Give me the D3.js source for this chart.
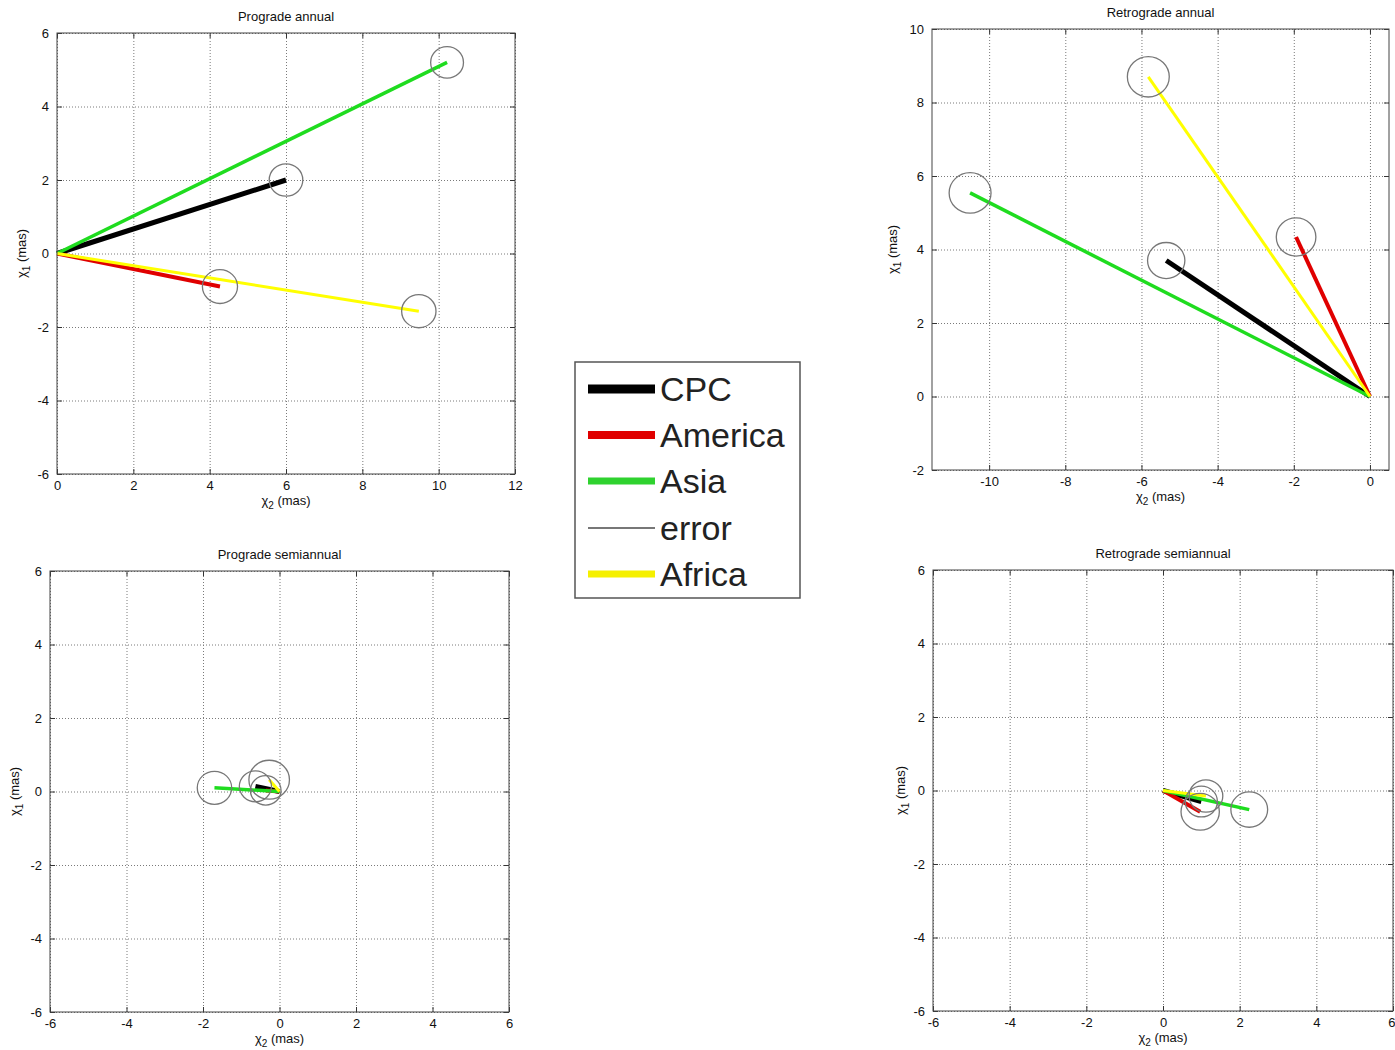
<!DOCTYPE html>
<html>
<head>
<meta charset="utf-8">
<script src="https://cdn.jsdelivr.net/npm/d3@7"></script>
<style>
  body { margin: 0; background: #fff; }
  svg { display: block; font-family: "Liberation Sans", Arial, sans-serif; }
</style>
</head>
<body>
<svg id="chart" width="1395" height="1050"></svg>
<script>
// ---------- DATA ----------
const seriesNames = ["CPC", "America", "Asia", "Africa"];
const seriesColors = ["#000000", "#e00000", "#1fdc1f", "#ffff00"];
const legendNames = ["CPC", "America", "Asia", "error", "Africa"];

const panelTitles = ["Prograde annual", "Retrograde annual", "Prograde semiannual", "Retrograde semiannual"];

// Prograde annual (chi2, chi1, error radius) for CPC, America, Asia, Africa
const proAnnualChi2 = [6.0, 4.27, 10.22, 9.48];
const proAnnualChi1 = [2.0, -0.9, 5.2, -1.57];
const proAnnualErr  = [0.44, 0.46, 0.43, 0.45];

// Retrograde annual
const retAnnualChi2 = [-5.35, -1.94, -10.5, -5.82];
const retAnnualChi1 = [3.7, 4.34, 5.54, 8.7];
const retAnnualErr  = [0.49, 0.52, 0.55, 0.55];

// Prograde semiannual
const proSemiChi2 = [-0.63, -0.36, -1.70, -0.27];
const proSemiChi1 = [0.14, 0.03, 0.10, 0.32];
const proSemiErr  = [0.42, 0.40, 0.45, 0.53];

// Retrograde semiannual
const retSemiChi2 = [1.0, 0.97, 2.25, 1.12];
const retSemiChi1 = [-0.30, -0.58, -0.52, -0.15];
const retSemiErr  = [0.42, 0.50, 0.48, 0.44];

const proAnnualXTicks = [0, 2, 4, 6, 8, 10, 12];
const retAnnualXTicks = [-10, -8, -6, -4, -2, 0];
const semiXTicks = [-6, -4, -2, 0, 2, 4, 6];
const sixYTicks = [-6, -4, -2, 0, 2, 4, 6];
const retAnnualYTicks = [-2, 0, 2, 4, 6, 8, 10];

// ---------- LAYOUT ----------
const panels = [
  { title: panelTitles[0], x: proAnnualChi2, y: proAnnualChi1, e: proAnnualErr,
    xDom: [0, 12], yDom: [-6, 6], xTicks: proAnnualXTicks, yTicks: sixYTicks,
    box: { l: 57, r: 515, t: 33, b: 474 }, titleY: 21, ylabX: 26 },
  { title: panelTitles[1], x: retAnnualChi2, y: retAnnualChi1, e: retAnnualErr,
    xDom: [-11.5, 0.5], yDom: [-2, 10], xTicks: retAnnualXTicks, yTicks: retAnnualYTicks,
    box: { l: 932, r: 1389, t: 29, b: 470 }, titleY: 17, ylabX: 897 },
  { title: panelTitles[2], x: proSemiChi2, y: proSemiChi1, e: proSemiErr,
    xDom: [-6, 6], yDom: [-6, 6], xTicks: semiXTicks, yTicks: sixYTicks,
    box: { l: 50, r: 509, t: 571, b: 1012 }, titleY: 559, ylabX: 19 },
  { title: panelTitles[3], x: retSemiChi2, y: retSemiChi1, e: retSemiErr,
    xDom: [-6, 6], yDom: [-6, 6], xTicks: semiXTicks, yTicks: sixYTicks,
    box: { l: 933, r: 1393, t: 570, b: 1011 }, titleY: 558, ylabX: 905 }
];

const svg = d3.select("#chart");
const fmt = d => String(d);

panels.forEach(p => {
  const B = p.box;
  const xs = d3.scaleLinear().domain(p.xDom).range([B.l, B.r]);
  const ys = d3.scaleLinear().domain(p.yDom).range([B.b, B.t]);
  const g = svg.append("g");

  g.append("rect").attr("x", B.l).attr("y", B.t).attr("width", B.r - B.l).attr("height", B.b - B.t)
    .attr("fill", "#fff");

  // grid
  const gx = g.append("g").attr("transform", `translate(0,${B.b})`)
    .call(d3.axisBottom(xs).tickValues(p.xTicks).tickSize(-(B.b - B.t)).tickFormat(""));
  const gy = g.append("g").attr("transform", `translate(${B.l},0)`)
    .call(d3.axisLeft(ys).tickValues(p.yTicks).tickSize(-(B.r - B.l)).tickFormat(""));
  [gx, gy].forEach(a => {
    a.select(".domain").remove();
    a.selectAll("line").attr("stroke", "#7a7a7a").attr("stroke-width", 1).attr("stroke-dasharray", "1,2");
  });

  // inner ticks on all four sides
  const tl = 5;
  const axB = g.append("g").attr("transform", `translate(0,${B.b})`)
    .call(d3.axisBottom(xs).tickValues(p.xTicks).tickSizeInner(-tl).tickSizeOuter(0).tickPadding(8).tickFormat(fmt));
  const axT = g.append("g").attr("transform", `translate(0,${B.t})`)
    .call(d3.axisTop(xs).tickValues(p.xTicks).tickSizeInner(-tl).tickSizeOuter(0).tickFormat(""));
  const axL = g.append("g").attr("transform", `translate(${B.l},0)`)
    .call(d3.axisLeft(ys).tickValues(p.yTicks).tickSizeInner(-tl).tickSizeOuter(0).tickPadding(8).tickFormat(fmt));
  const axR = g.append("g").attr("transform", `translate(${B.r},0)`)
    .call(d3.axisRight(ys).tickValues(p.yTicks).tickSizeInner(-tl).tickSizeOuter(0).tickFormat(""));
  [axB, axT, axL, axR].forEach(a => {
    a.select(".domain").remove();
    a.selectAll("line").attr("stroke", "#333");
    a.selectAll("text").attr("fill", "#111").style("font-size", "13px")
      .style("font-family", "'Liberation Sans', Arial, sans-serif");
  });
  axB.selectAll("text").attr("dy", "0.6em");
  // keep the last x label inside the page
  axB.selectAll(".tick text").filter(d => xs(d) > 1385).attr("text-anchor", "end").attr("x", 2);

  // series lines
  const widths = [5, 4, 3.5, 3];
  seriesNames.forEach((s, i) => {
    g.append("line")
      .attr("x1", xs(0)).attr("y1", ys(0))
      .attr("x2", xs(p.x[i])).attr("y2", ys(p.y[i]))
      .attr("stroke", seriesColors[i]).attr("stroke-width", widths[i])
      .attr("stroke-linecap", "butt");
  });

  // error ellipses
  seriesNames.forEach((s, i) => {
    g.append("ellipse")
      .attr("cx", xs(p.x[i])).attr("cy", ys(p.y[i]))
      .attr("rx", Math.abs(xs(p.e[i]) - xs(0)))
      .attr("ry", Math.abs(ys(p.e[i]) - ys(0)))
      .attr("fill", "none").attr("stroke", "#777").attr("stroke-width", 1.3);
  });

  // frame
  g.append("rect").attr("x", B.l).attr("y", B.t).attr("width", B.r - B.l).attr("height", B.b - B.t)
    .attr("fill", "none").attr("stroke", "#444").attr("stroke-width", 1);

  // title
  const cx = (B.l + B.r) / 2;
  g.append("text").attr("x", cx).attr("y", p.titleY).attr("text-anchor", "middle")
    .style("font-size", "13px").attr("fill", "#111").text(p.title);

  // x label
  const xl = g.append("text").attr("x", cx).attr("y", B.b + 31).attr("text-anchor", "middle")
    .style("font-size", "13px").attr("fill", "#111");
  xl.append("tspan").text("χ");
  xl.append("tspan").attr("dy", 4).style("font-size", "10px").text("2");
  xl.append("tspan").attr("dy", -4).text(" (mas)");

  // y label
  const yl = g.append("text")
    .attr("transform", `translate(${p.ylabX},${(B.t + B.b) / 2}) rotate(-90)`)
    .attr("text-anchor", "middle").style("font-size", "13px").attr("fill", "#111");
  yl.append("tspan").text("χ");
  yl.append("tspan").attr("dy", 4).style("font-size", "10px").text("1");
  yl.append("tspan").attr("dy", -4).text(" (mas)");
});

// ---------- LEGEND ----------
const lg = svg.append("g");
lg.append("rect").attr("x", 575).attr("y", 362).attr("width", 225).attr("height", 236)
  .attr("fill", "#fff").attr("stroke", "#555").attr("stroke-width", 1.5);
const legColors = ["#000000", "#e00000", "#2fd22f", "#777777", "#f5f000"];
const legWidths = [9, 8, 7, 2, 7];
const legY = [389, 435, 481, 528, 574];
legendNames.forEach((n, i) => {
  lg.append("line").attr("x1", 588).attr("x2", 655).attr("y1", legY[i]).attr("y2", legY[i])
    .attr("stroke", legColors[i]).attr("stroke-width", legWidths[i]);
  lg.append("text").attr("x", 660).attr("y", legY[i] + 12)
    .style("font-size", "34px").attr("fill", "#222").text(n);
});
</script>
</body>
</html>
